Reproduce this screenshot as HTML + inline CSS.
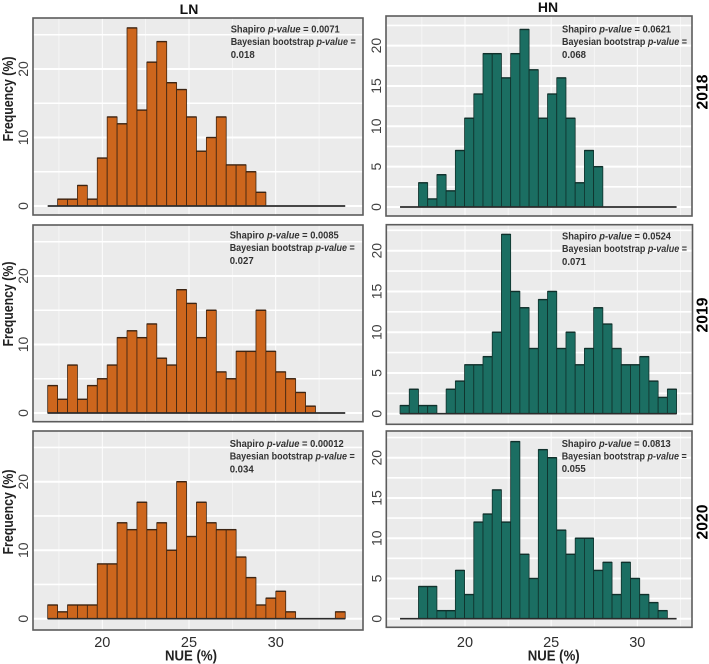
<!DOCTYPE html>
<html lang="en">
<head>
<meta charset="utf-8">
<title>NUE frequency histograms</title>
<style>
html,body{margin:0;padding:0;background:#fff;width:709px;height:664px;overflow:hidden}
svg{display:block;filter:blur(0.35px)}
text{font-family:"Liberation Sans",sans-serif}
</style>
</head>
<body>
<svg id="figure" width="709" height="664" viewBox="0 0 709 664" xmlns="http://www.w3.org/2000/svg">
  <text x="189" y="14" text-anchor="middle" font-size="14" font-weight="700" fill="#111">LN</text>
  <text x="548" y="12" text-anchor="middle" font-size="14" font-weight="700" fill="#111">HN</text>
  <text transform="translate(707.5 92) rotate(-90)" text-anchor="middle" font-size="15.7" font-weight="700" fill="#000">2018</text>
  <text transform="translate(707.5 315) rotate(-90)" text-anchor="middle" font-size="15.7" font-weight="700" fill="#000">2019</text>
  <text transform="translate(707.5 522) rotate(-90)" text-anchor="middle" font-size="15.7" font-weight="700" fill="#000">2020</text>
  <text transform="translate(13 99) rotate(-90)" text-anchor="middle" font-size="14.5" font-weight="700" fill="#222" textLength="85" lengthAdjust="spacingAndGlyphs">Frequency (%)</text>
  <text transform="translate(13 304) rotate(-90)" text-anchor="middle" font-size="14.5" font-weight="700" fill="#222" textLength="85" lengthAdjust="spacingAndGlyphs">Frequency (%)</text>
  <text transform="translate(13 512) rotate(-90)" text-anchor="middle" font-size="14.5" font-weight="700" fill="#222" textLength="85" lengthAdjust="spacingAndGlyphs">Frequency (%)</text>
  <text x="191" y="660.7" text-anchor="middle" font-size="15" font-weight="700" fill="#222" textLength="52" lengthAdjust="spacingAndGlyphs">NUE (%)</text>
  <text x="553.7" y="660.7" text-anchor="middle" font-size="15" font-weight="700" fill="#222" textLength="52" lengthAdjust="spacingAndGlyphs">NUE (%)</text>
</svg>
<script>
const ln2018 = [0,1,1,3,1,7,13,12,26,14,21,24,18,17,13,8,10,13,6,6,5,2,0,0,0,0,0,0,0,0];
const ln2019 = [4,2,7,2,4,5,7,11,12,11,13,8,7,18,16,11,15,6,5,9,9,15,9,6,5,3,1,0,0,0];
const ln2020 = [2,1,2,2,2,8,8,14,13,17,13,14,10,20,12,17,14,13,13,9,6,2,3,4,1,0,0,0,0,1];
const hn2018 = [0,0,3,1,4,2,7,11,14,19,19,16,19,22,17,11,14,16,11,3,7,5,0,0,0,0,0,0,0,0];
const hn2019 = [1,3,1,1,0,3,4,6,6,7,10,22,15,13,8,14,15,8,10,6,8,13,11,8,6,6,7,4,2,3];
const hn2020 = [0,0,4,4,1,1,6,3,12,13,16,12,22,8,5,21,20,11,8,10,10,6,7,3,7,5,3,2,1,0];

const lnBinStart = 16.85;
const lnBinWidth = 0.572;
const hnBinStart = 16.23;
const hnBinWidth = 0.535;

const xTicks = [20,25,30];
const xMinorTicks = [17.5,22.5,27.5,32.5];
const lnYTicks = [0,10,20];
const lnYMinorTicks = [5,15,25];
const hnYTicks = [0,5,10,15,20];
const hnYMinorTicks = [2.5,7.5,12.5,17.5,22.5];

const shapiroValues = ["0.0071","0.0621","0.0085","0.0524","0.00012","0.0813"];
const bootstrapValues = ["0.018","0.068","0.027","0.071","0.034","0.055"];

const layouts = [
  {id:"ln-2018",values:ln2018,start:lnBinStart,width:lnBinWidth,yTicks:lnYTicks,yMinor:lnYMinorTicks,fill:"#CD661D",edge:"#3d2412",box:[33,18,363,215],x20:102.3,x30:275.7,y0:206,yUnit:6.85,note:[230.7,32.5],xLabels:false,stat:0},
  {id:"hn-2018",values:hn2018,start:hnBinStart,width:hnBinWidth,yTicks:hnYTicks,yMinor:hnYMinorTicks,fill:"#1B6E62",edge:"#10302b",box:[386,16,692,216],x20:465,x30:637.3,y0:207,yUnit:8.07,note:[562,32.5],xLabels:false,stat:1},
  {id:"ln-2019",values:ln2019,start:lnBinStart,width:lnBinWidth,yTicks:lnYTicks,yMinor:lnYMinorTicks,fill:"#CD661D",edge:"#3d2412",box:[33,225,363,421.7],x20:102.3,x30:275.7,y0:413,yUnit:6.85,note:[229.7,238.5],xLabels:false,stat:2},
  {id:"hn-2019",values:hn2019,start:hnBinStart,width:hnBinWidth,yTicks:hnYTicks,yMinor:hnYMinorTicks,fill:"#1B6E62",edge:"#10302b",box:[386.3,224.7,692.5,424.3],x20:465,x30:637.3,y0:413.7,yUnit:8.15,note:[562,239.5],xLabels:false,stat:3},
  {id:"ln-2020",values:ln2020,start:lnBinStart,width:lnBinWidth,yTicks:lnYTicks,yMinor:lnYMinorTicks,fill:"#CD661D",edge:"#3d2412",box:[33,431,363,630],x20:102.3,x30:275.7,y0:618.7,yUnit:6.85,note:[229.7,447],xLabels:true,stat:4},
  {id:"hn-2020",values:hn2020,start:hnBinStart,width:hnBinWidth,yTicks:hnYTicks,yMinor:hnYMinorTicks,fill:"#1B6E62",edge:"#10302b",box:[386.3,431,692,627.3],x20:465,x30:637.3,y0:618.7,yUnit:8.05,note:[561.7,446.8],xLabels:true,stat:5}
];

const svg = document.getElementById("figure");
const NS = "http://www.w3.org/2000/svg";

function make(tag, parent, attrs, text) {
  const node = document.createElementNS(NS, tag);
  for (const key in attrs) node.setAttribute(key, attrs[key]);
  if (text !== undefined) node.textContent = text;
  parent.appendChild(node);
  return node;
}

layouts.forEach(function (p) {
  const [left, top, right, bottom] = p.box;
  const xScale = function (v) { return p.x20 + (v - 20) * (p.x30 - p.x20) / 10; };
  const yScale = function (v) { return p.y0 - v * p.yUnit; };

  const panel = make("g", svg, {});
  
  

  const background = make("rect", panel, {x:left, y:top, width:right-left, height:bottom-top, fill:"#EBEBEB"});
  
  

  p.yMinor.forEach(function (v) {
    const grid = make("line", panel, {x1:left, x2:right, y1:yScale(v), y2:yScale(v), stroke:"#fff", "stroke-width":1.6});
    
    
  });
  p.yTicks.forEach(function (v) {
    const grid = make("line", panel, {x1:left, x2:right, y1:yScale(v), y2:yScale(v), stroke:"#fff", "stroke-width":2});
    
    
  });
  xMinorTicks.forEach(function (v) {
    const grid = make("line", panel, {x1:xScale(v), x2:xScale(v), y1:top, y2:bottom, stroke:"#fff", "stroke-width":0.5});
    
    
  });
  xTicks.forEach(function (v) {
    const grid = make("line", panel, {x1:xScale(v), x2:xScale(v), y1:top, y2:bottom, stroke:"#fff", "stroke-width":0.9});
    
    
  });

  p.values.forEach(function (count, i) {
    if (count <= 0) return;
    const x0 = xScale(p.start + i * p.width);
    const x1 = xScale(p.start + (i + 1) * p.width);
    const bar = make("rect", panel, {x:x0, y:yScale(count), width:x1-x0, height:yScale(0)-yScale(count), fill:p.fill, stroke:p.edge, "stroke-width":0.8});
    
    
    const cap = make("line", panel, {x1:x0, x2:x1, y1:yScale(count), y2:yScale(count), stroke:p.edge, "stroke-width":1.4});
    
    
  });

  const baseline = make("line", panel, {
    x1:xScale(p.start), x2:xScale(p.start + p.values.length * p.width),
    y1:yScale(0), y2:yScale(0), stroke:"#2b2b2b", "stroke-width":1.7
  });
  
  

  const frame = make("rect", panel, {x:left, y:top, width:right-left, height:bottom-top, fill:"none", stroke:"#5c5c5c", "stroke-width":1.6});
  
  

  p.yTicks.forEach(function (v) {
    const label = make("text", panel, {
      transform:"translate(" + (left - 5) + " " + yScale(v) + ") rotate(-90)",
      "text-anchor":"middle", "font-size":14, fill:"#404040"
    }, String(v));
    
    
  });

  if (p.xLabels) {
    xTicks.forEach(function (v) {
      const label = make("text", panel, {x:xScale(v), y:647, "text-anchor":"middle", "font-size":14.5, fill:"#2e2e2e"}, String(v));
      
      
    });
  }

  const noteX = p.note[0];
  const noteY = p.note[1];
  const line1 = make("text", panel, {x:noteX, y:noteY, "font-size":10.2, "font-weight":700, fill:"#333", textLength:shapiroValues[p.stat].length > 6 ? 114 : 109, lengthAdjust:"spacingAndGlyphs"});
  
  
  make("tspan", line1, {}, "Shapiro ");
  make("tspan", line1, {"font-style":"italic"}, "p-value");
  make("tspan", line1, {}, " =  " + shapiroValues[p.stat]);

  const line2 = make("text", panel, {x:noteX, y:noteY + 12.7, "font-size":10.2, "font-weight":700, fill:"#333", textLength:125, lengthAdjust:"spacingAndGlyphs"});
  
  
  make("tspan", line2, {}, "Bayesian bootstrap ");
  make("tspan", line2, {"font-style":"italic"}, "p-value");
  make("tspan", line2, {}, " =");

  const line3 = make("text", panel, {x:noteX, y:noteY + 25.4, "font-size":10.2, "font-weight":700, fill:"#333", textLength:24, lengthAdjust:"spacingAndGlyphs"}, bootstrapValues[p.stat]);
  
  
});
</script>
</body>
</html>
